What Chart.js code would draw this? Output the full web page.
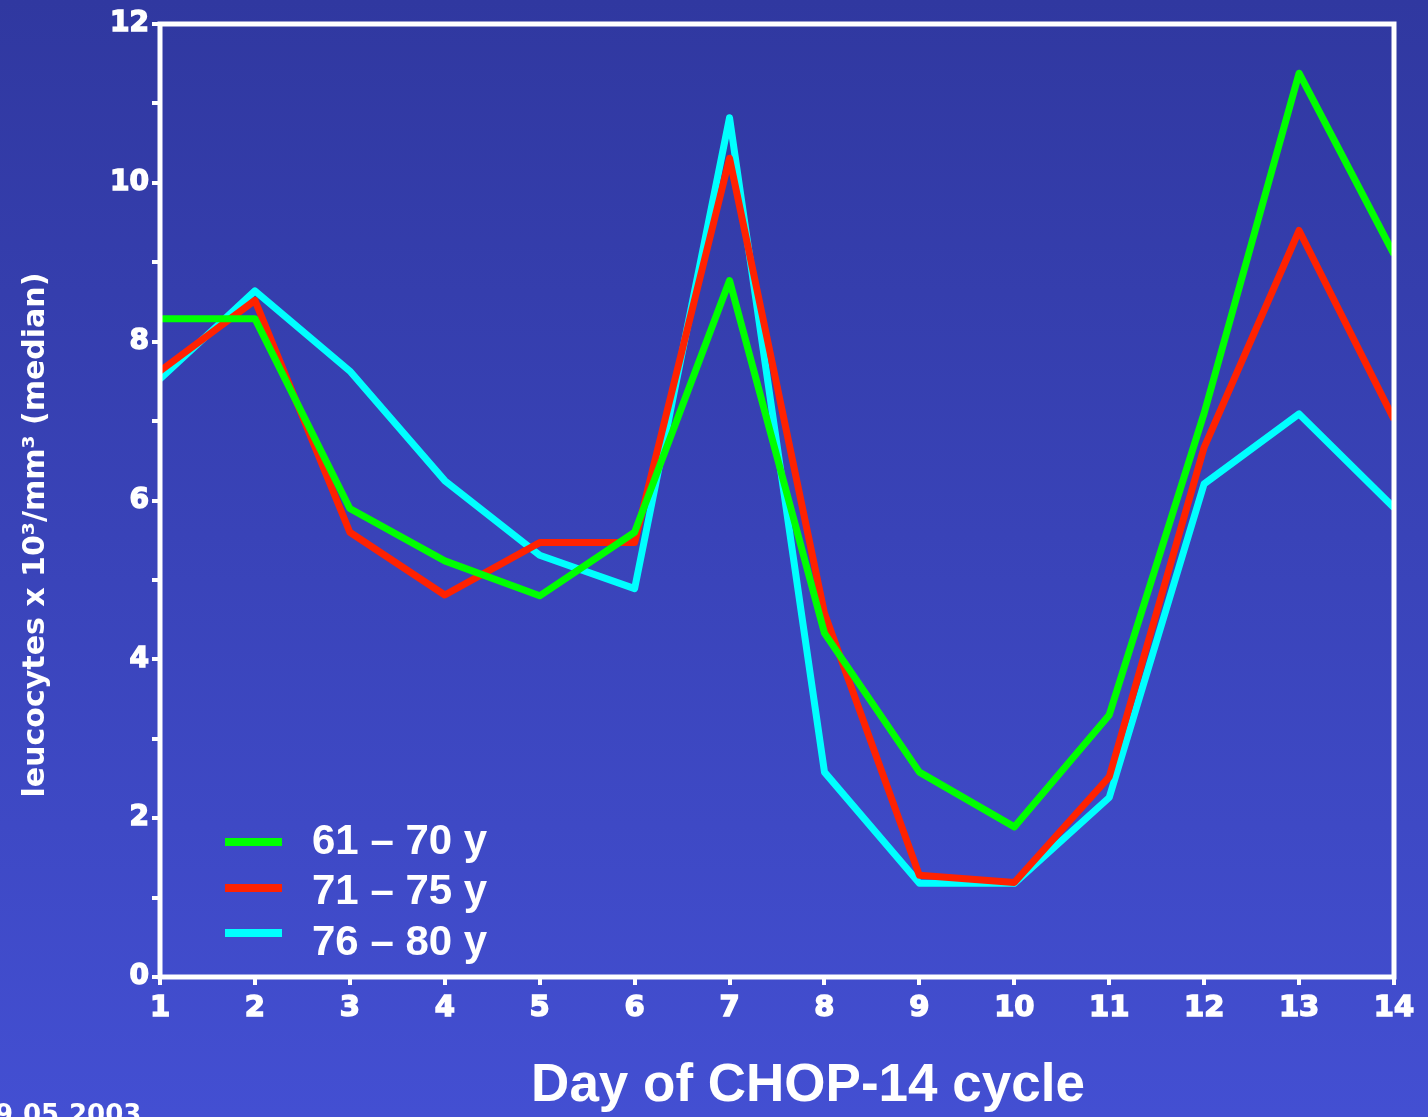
<!DOCTYPE html>
<html lang="en">
<head>
    <meta charset="UTF-8">
    <title>Leucocytes during CHOP-14 cycle</title>
    <script src="https://cdn.jsdelivr.net/npm/chart.js"></script>
    <style>
        body {
            margin: 0;
            padding: 0;
            background: #3a45b8;
            overflow: hidden;
        }
        canvas {
            display: block;
        }
    </style>
</head>
<body>
    <canvas id="wbcChart" width="1428" height="1117"></canvas>

    <script>
        // Data
        const days = ['1', '2', '3', '4', '5', '6', '7', '8', '9', '10', '11', '12', '13', '14'];
        const age61to70 = [8.29, 8.29, 5.90, 5.24, 4.80, 5.60, 8.77, 4.33, 2.58, 1.89, 3.30, 7.10, 11.38, 9.10];
        const age71to75 = [7.63, 8.52, 5.60, 4.81, 5.47, 5.47, 10.31, 4.58, 1.28, 1.19, 2.52, 6.67, 9.40, 7.02];
        const age76to80 = [7.53, 8.64, 7.63, 6.25, 5.31, 4.89, 10.82, 2.58, 1.18, 1.18, 2.26, 6.21, 7.09, 5.91];
        const seriesNames = ['61 – 70 y', '71 – 75 y', '76 – 80 y'];
        const seriesColors = ['#00ff00', '#ff2200', '#00ffff'];
        const xTitle = 'Day of CHOP-14 cycle';
        const yTitle = 'leucocytes x 10³/mm³ (median)';

        const SANS = '"Liberation Sans", Arial, Helvetica, sans-serif';
        const WIDE = '"DejaVu Sans", Verdana, sans-serif';

        // gradient background over the whole canvas
        const bgPlugin = {
            id: 'bg',
            beforeDraw(chart) {
                const ctx = chart.ctx;
                const g = ctx.createLinearGradient(0, 0, 0, chart.height);
                g.addColorStop(0, '#3038a0');
                g.addColorStop(1, '#434fd2');
                ctx.save();
                ctx.fillStyle = g;
                ctx.fillRect(0, 0, chart.width, chart.height);
                ctx.restore();
            }
        };

        // white frame round the plot, legend inside it, axis titles, date in the corner
        const framePlugin = {
            id: 'frame',
            afterDatasetsDraw(chart) {
                const ctx = chart.ctx;
                const a = chart.chartArea;
                ctx.save();
                ctx.strokeStyle = '#ffffff';
                ctx.lineWidth = 5;
                ctx.strokeRect(a.left, a.top, a.right - a.left, a.bottom - a.top);

                // legend
                const lineY = [842, 888, 933];
                const textY = [842, 892, 943];
                ctx.font = 'bold 42px ' + SANS;
                ctx.textBaseline = 'middle';
                ctx.textAlign = 'left';
                chart.data.datasets.forEach((ds, i) => {
                    ctx.fillStyle = ds.borderColor;
                    ctx.fillRect(225, lineY[i] - 4, 57, 8);
                    ctx.fillStyle = '#ffffff';
                    ctx.fillText(ds.label, 312, textY[i]);
                });

                // axis titles
                ctx.textAlign = 'center';
                ctx.font = 'bold 53px ' + SANS;
                ctx.fillText(xTitle, 808, 1086);

                ctx.save();
                ctx.translate(36, 535);
                ctx.rotate(-Math.PI / 2);
                ctx.font = 'bold 30px ' + WIDE;
                ctx.fillText(yTitle, 0, 0);
                ctx.restore();

                // cut-off date at the bottom left
                ctx.textAlign = 'left';
                ctx.font = 'bold 26px ' + WIDE;
                ctx.textBaseline = 'top';
                ctx.fillText('9.05.2003', -5, 1103);
                ctx.restore();
            }
        };

        const datasets = [age61to70, age71to75, age76to80].map((vals, i) => ({
            label: seriesNames[i],
            data: vals,
            borderColor: seriesColors[i],
            backgroundColor: seriesColors[i],
            borderWidth: 7,
            borderJoinStyle: 'round',
            pointRadius: 0,
            pointHoverRadius: 0,
            tension: 0,
            clip: 0
        }));

        const tickGrid = {
            display: true,
            drawOnChartArea: false,
            drawTicks: true,
            tickLength: 8,
            color: '#ffffff',
            lineWidth: 4
        };

        const wbcChart = new Chart(document.getElementById('wbcChart'), {
            type: 'line',
            data: {
                labels: days,
                datasets: datasets
            },
            options: {
                responsive: false,
                animation: false,
                layout: {
                    padding: { top: 24, right: 34, left: 0, bottom: 0 }
                },
                plugins: {
                    legend: { display: false },
                    tooltip: { enabled: false }
                },
                scales: {
                    x: {
                        type: 'category',
                        offset: false,
                        border: { display: false },
                        grid: tickGrid,
                        ticks: {
                            color: '#ffffff',
                            textStrokeColor: '#ffffff',
                            textStrokeWidth: 1.5,
                            font: { family: WIDE, size: 29, weight: 'bold' },
                            padding: 6,
                            maxRotation: 0,
                            autoSkip: false
                        },
                        afterFit(scale) { scale.height = 140; }
                    },
                    y: {
                        min: 0,
                        max: 12,
                        border: { display: false },
                        grid: tickGrid,
                        ticks: {
                            stepSize: 1,
                            color: '#ffffff',
                            textStrokeColor: '#ffffff',
                            textStrokeWidth: 1.5,
                            font: { family: WIDE, size: 28, weight: 'bold' },
                            padding: 3,
                            callback: (v) => (v % 2 === 0 ? v : '')
                        },
                        afterFit(scale) { scale.width = 160; }
                    }
                }
            },
            plugins: [bgPlugin, framePlugin]
        });
    </script>
</body>
</html>
